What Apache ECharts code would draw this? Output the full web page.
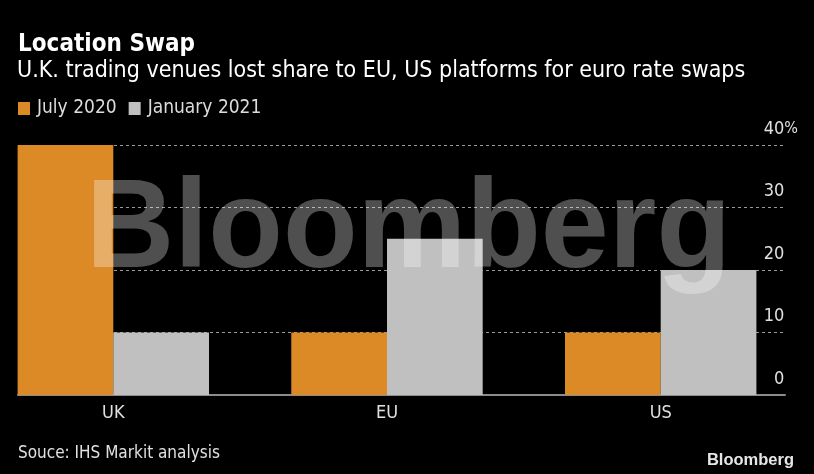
<!DOCTYPE html>
<html>
<head>
<meta charset="utf-8">
<script src="https://cdn.jsdelivr.net/npm/echarts@6/dist/echarts.min.js"></script>
<style>
  html, body { margin: 0; padding: 0; background: #000; }
  #chart { width: 814px; height: 474px; }
</style>
</head>
<body>
<div id="chart"></div>
<script>
// data
var categories = ['UK', 'EU', 'US'];
var july2020 = [40, 10, 10];
var jan2021 = [10, 25, 20];
var seriesNames = ['July 2020', 'January 2021'];
var yTicks = [0, 10, 20, 30, 40];

var FONT = '"DejaVu Sans Condensed", "Liberation Sans Narrow", sans-serif';
var myChart = echarts.init(document.getElementById('chart'));

var option = {
    backgroundColor: '#000',
    animation: false,
    title: [{
        text: 'Location Swap',
        left: 13, top: 28,
        textStyle: { color: '#fff', fontFamily: FONT, fontSize: 24, fontWeight: 'bold' }
    }, {
        text: 'U.K. trading venues lost share to EU, US platforms for euro rate swaps',
        left: 12, top: 55,
        textStyle: { color: '#fff', fontFamily: FONT, fontSize: 23, fontWeight: 'normal' }
    }, {
        text: 'Souce: IHS Markit analysis',
        left: 13, top: 440,
        textStyle: { color: '#e0e0e0', fontFamily: FONT, fontSize: 17, fontWeight: 'normal' }
    }, {
        text: 'Bloomberg',
        right: 15, top: 447,
        textStyle: { color: '#e6e6e6', fontFamily: '"Liberation Sans", Arial, sans-serif', fontSize: 16.5, fontWeight: 'bold' }
    }],
    legend: {
        data: seriesNames,
        left: 13, top: 94,
        itemWidth: 12, itemHeight: 13, itemGap: 12,
        icon: 'rect',
        textStyle: { color: '#ddd', fontFamily: FONT, fontSize: 19, padding: [0, 0, 0, 2] }
    },
    grid: [
        // gridlines / y axis
        { left: 18, right: 29, top: 145, bottom: 79 },
        // bars: category ticks placed on the bar-pair centres
        { left: 113.3, right: 153.3, top: 145, bottom: 79 }
    ],
    xAxis: [{
        gridIndex: 0, type: 'value', min: 0, max: 1,
        axisLine: { show: true, lineStyle: { color: '#8c8c8c', width: 2 } },
        axisTick: { show: false }, axisLabel: { show: false }, splitLine: { show: false }
    }, {
        gridIndex: 1, type: 'category', data: categories, boundaryGap: false,
        axisLine: { show: false }, axisTick: { show: false },
        axisLabel: { color: '#e0e0e0', fontFamily: FONT, fontSize: 18, margin: 9 }
    }],
    yAxis: [{
        gridIndex: 0, type: 'value', position: 'right', min: 0, max: 40, interval: 10,
        axisLine: { show: false }, axisTick: { show: false },
        axisLabel: {
            inside: true, margin: -13, align: 'right', verticalAlign: 'bottom',
            padding: [0, 0, 7, 0],
            color: '#e0e0e0', fontFamily: FONT, fontSize: 18,
            formatter: function (v) {
                if (yTicks.indexOf(v) < 0) return '';
                return v === 40 ? v + '{p|%}' : v + '{h|%}';
            },
            rich: {
                p: { color: '#e0e0e0', fontFamily: FONT, fontSize: 16 },
                h: { color: 'rgba(0,0,0,0)', fontFamily: FONT, fontSize: 16 }
            }
        },
        splitLine: { show: true, lineStyle: { color: '#9a9a9a', type: [3, 3], width: 1 } }
    }, {
        gridIndex: 1, type: 'value', min: 0, max: 40, show: false
    }],
    series: [{
        name: seriesNames[0], type: 'bar', xAxisIndex: 1, yAxisIndex: 1,
        data: july2020, barWidth: 95.7, barGap: '0%', clip: false,
        itemStyle: { color: '#dc8a26' }
    }, {
        name: seriesNames[1], type: 'bar', xAxisIndex: 1, yAxisIndex: 1,
        data: jan2021, barWidth: 95.7, barGap: '0%', clip: false,
        itemStyle: { color: '#c0c0c0' }
    }],
    graphic: [{
        type: 'text', left: 86, top: 169, z: 100, scaleX: 0.97,
        style: {
            text: 'Bloomberg',
            fill: 'rgba(255,255,255,0.31)',
            font: 'bold 126px "Liberation Sans", Arial, sans-serif'
        }
    }]
};
myChart.setOption(option);
</script>
</body>
</html>
